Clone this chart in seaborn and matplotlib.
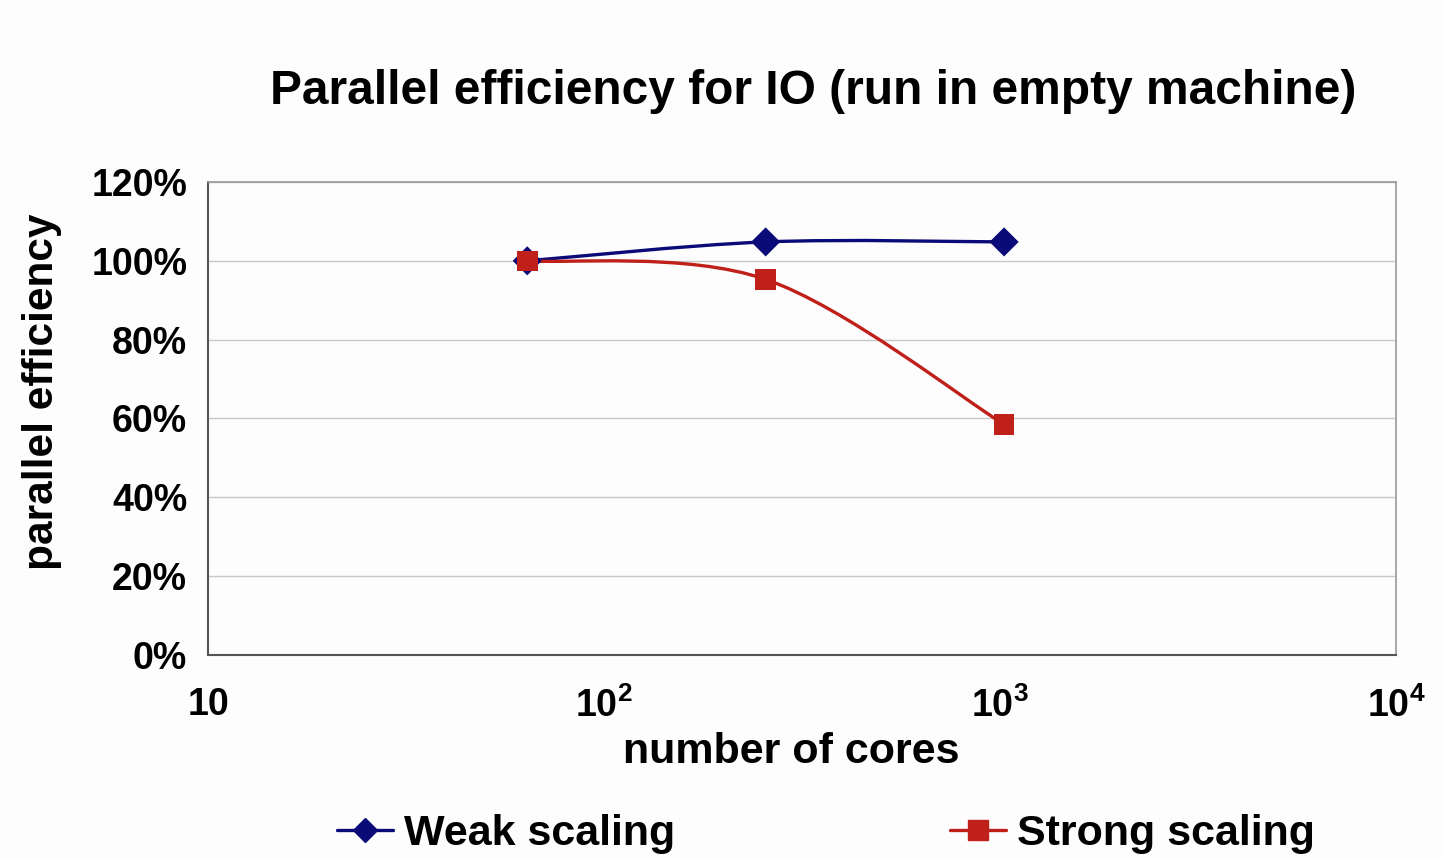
import numpy as np
import pandas as pd
import matplotlib
matplotlib.use('Agg')
import matplotlib.pyplot as plt
import seaborn as sns
from matplotlib.path import Path
from matplotlib.patches import PathPatch
from matplotlib.lines import Line2D
from matplotlib.ticker import FixedLocator, FuncFormatter, NullLocator

# data
cores = [64, 256, 1024]
weak_eff = [100.0, 104.8, 104.8]
strong_eff = [100.0, 95.3, 58.5]
series_names = ['Weak scaling', 'Strong scaling']
x_ticks = [10, 100, 1000, 10000]
y_ticks = [0, 20, 40, 60, 80, 100, 120]

colors = {'Weak scaling': '#0a0a78', 'Strong scaling': '#c0201a'}
markers = {'Weak scaling': 'D', 'Strong scaling': 's'}

df = pd.DataFrame({
    'cores': cores * 2,
    'eff': weak_eff + strong_eff,
    'series': [series_names[0]] * 3 + [series_names[1]] * 3,
})

sns.set_theme(style='white')
plt.rcParams['font.family'] = ['Liberation Sans', 'DejaVu Sans']
plt.rcParams['font.weight'] = 'bold'
plt.rcParams['text.color'] = 'black'
plt.rcParams['axes.labelcolor'] = 'black'
plt.rcParams['mathtext.fontset'] = 'custom'
plt.rcParams['mathtext.rm'] = 'Liberation Sans:bold'
plt.rcParams['mathtext.bf'] = 'Liberation Sans:bold'

fig = plt.figure(figsize=(14.44, 8.58), dpi=100)
fig.patch.set_facecolor('#fdfdfd')
ax = fig.add_axes([208 / 1444, 1 - 655 / 858, (1396 - 208) / 1444, (655 - 182) / 858])
ax.set_facecolor('#fdfdfd')
ax.set_xscale('log')


def smooth_path(xs, ys):
    # Excel-style smoothed line: cubic bezier in log-x space
    lx = np.log10(xs)
    pts = np.column_stack([lx, ys])
    n = len(pts)
    verts = [pts[0]]
    codes = [Path.MOVETO]
    for i in range(n - 1):
        p0 = pts[i - 1] if i > 0 else pts[i]
        p1 = pts[i]
        p2 = pts[i + 1]
        p3 = pts[i + 2] if i + 2 < n else pts[i + 1]
        c1 = p1 + (p2 - p0) / 6.0
        c2 = p2 - (p3 - p1) / 6.0
        verts += [c1, c2, p2]
        codes += [Path.CURVE4] * 3
    verts = np.array(verts)
    verts[:, 0] = 10 ** verts[:, 0]
    return Path(verts, codes)


for name in series_names:
    sub = df[df['series'] == name]
    patch = PathPatch(smooth_path(sub['cores'].values, sub['eff'].values),
                      facecolor='none', edgecolor=colors[name], lw=2.4, zorder=2)
    ax.add_patch(patch)

sns.scatterplot(data=df, x='cores', y='eff', hue='series', style='series',
                palette=colors, markers=markers, s=220, linewidth=0,
                ax=ax, legend=False, zorder=3)

ax.set_xlim(10, 10000)
ax.set_ylim(0, 120)
ax.xaxis.set_major_locator(FixedLocator(x_ticks))
ax.xaxis.set_minor_locator(NullLocator())
ax.xaxis.set_major_formatter(FuncFormatter(
    lambda v, p: '10' if v == 10 else r'$\mathbf{10^{%d}}$' % round(np.log10(v))))
ax.yaxis.set_major_locator(FixedLocator(y_ticks))
ax.yaxis.set_major_formatter(FuncFormatter(lambda v, p: f'{v:.0f}%'))

ax.grid(axis='y', color='#c8c8c8', lw=1)
ax.grid(axis='x', visible=False)
for s in ['left', 'bottom']:
    ax.spines[s].set_color('#555555')
    ax.spines[s].set_linewidth(1.5)
for s in ['top', 'right']:
    ax.spines[s].set_color('#999999')
    ax.spines[s].set_linewidth(1.2)

ax.tick_params(axis='x', direction='out', length=7, width=1.2, color='#555555',
               pad=16, labelsize=27, labelcolor='black')
ax.tick_params(axis='y', direction='out', length=7, width=1.2, color='#555555',
               pad=8, labelsize=27, labelcolor='black')
for lbl in ax.get_xticklabels() + ax.get_yticklabels():
    lbl.set_fontweight('bold')

ax.set_xlabel('')
ax.set_ylabel('')
fig.text(791 / 1444, 1 - 752 / 858, 'number of cores',
         fontsize=31, fontweight='bold', ha='center', va='center')
fig.text(42 / 1444, 1 - 392 / 858, 'parallel efficiency', rotation=90,
         fontsize=30.5, fontweight='bold', ha='center', va='center')

fig.text(813 / 1444, 1 - 92 / 858, 'Parallel efficiency for IO (run in empty machine)',
         fontsize=34.5, fontweight='bold', ha='center', va='center')

handles = [Line2D([], [], color=colors[n], marker=markers[n], lw=2.4,
                  markersize=14 if n == series_names[1] else 12) for n in series_names]
fig.legend(handles, series_names, loc='center', bbox_to_anchor=(826 / 1444, 1 - 834 / 858),
           ncol=2, frameon=False, prop={'weight': 'bold', 'size': 31},
           handlelength=1.3, handletextpad=0.25, columnspacing=6.4)

fig.savefig('out.png', dpi=100, facecolor=fig.get_facecolor())
